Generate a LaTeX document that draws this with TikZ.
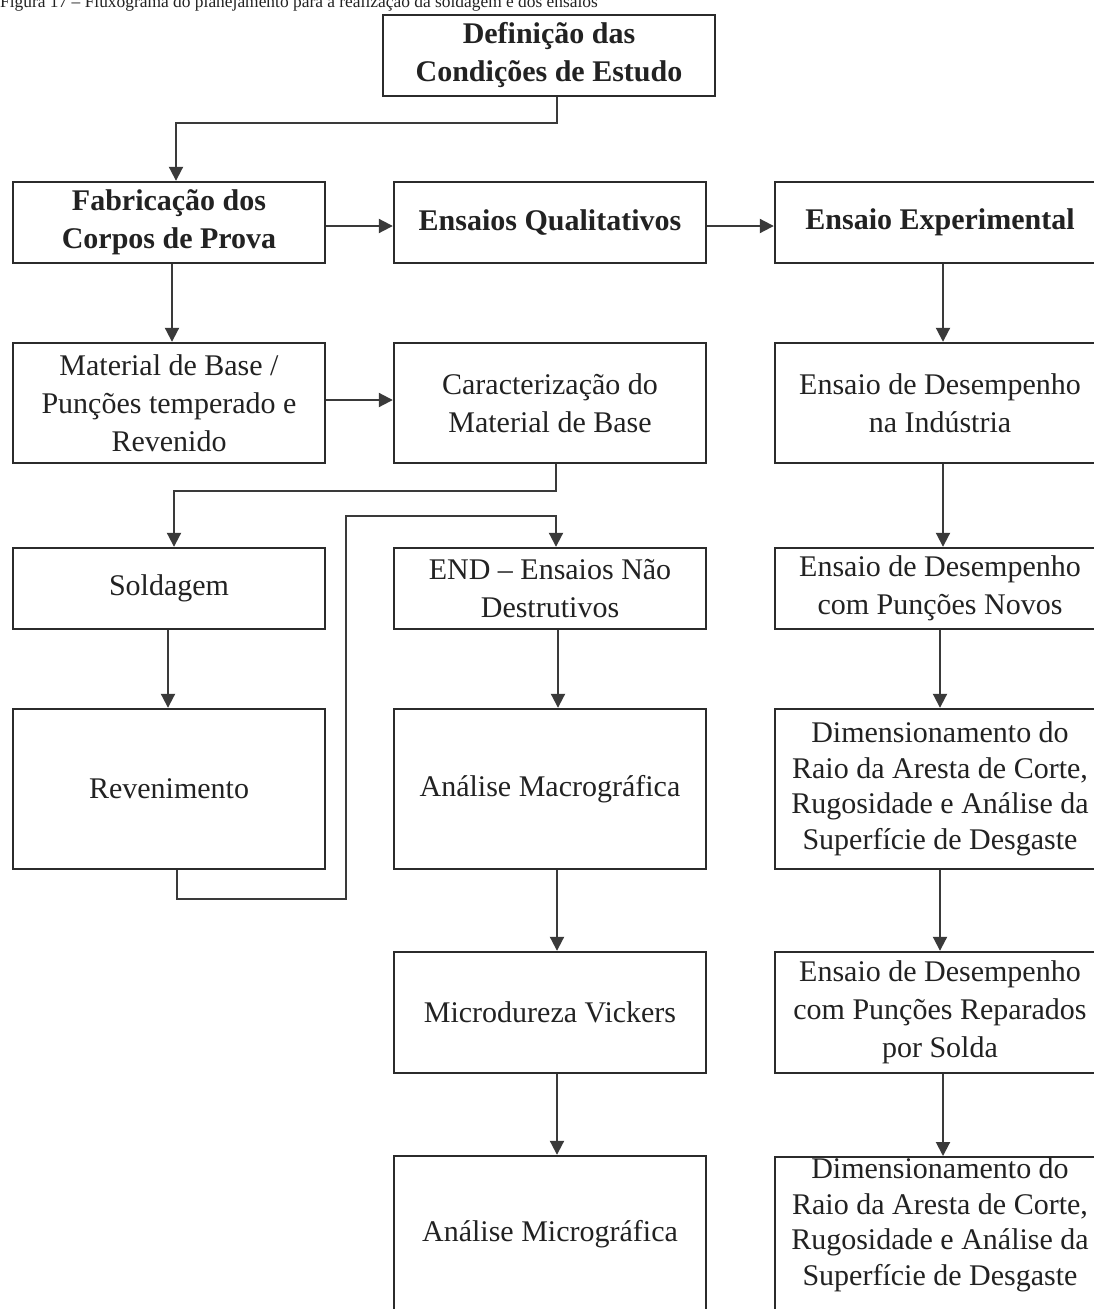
\documentclass[tikz,border=0pt]{standalone}
\usepackage{fontspec}
\setmainfont{Liberation Serif}
\usetikzlibrary{arrows.meta}
\definecolor{ink}{HTML}{222222}
\definecolor{edgec}{HTML}{2B2B2B}
\definecolor{wire}{HTML}{3A3A3A}
\tikzset{
  box/.style={draw=edgec, line width=2.4pt, rectangle, inner sep=0pt, align=center, text=ink,
    font=\fontsize{30}{38}\selectfont},
  boldbox/.style={box, font=\fontsize{30}{38}\selectfont\bfseries},
  tightbox/.style={box, font=\fontsize{30}{35.5}\selectfont},
  lbox/.style={minimum width=312pt},
  rbox/.style={minimum width=330pt},
  conn/.style={draw=wire, line width=2pt, -{Triangle[length=14pt,width=14pt]}},
  txt/.style={inner sep=0pt, align=center, text=ink, font=\fontsize{30}{35.5}\selectfont},
}
\begin{document}
\begin{tikzpicture}[x=1pt,y=-1pt]
\useasboundingbox (0,0) rectangle (1094,1309);
\clip (0,0) rectangle (1094,1309);
\fill[white] (0,0) rectangle (1094,1309);

% caption (cut at the top, as in the reference)
\node[anchor=base west, inner sep=0pt, text=ink, font=\fontsize{17.4}{20}\selectfont] (cap) at (0,7)
  {Figura 17 -- Fluxograma do planejamento para a realização da soldagem e dos ensaios};

% top
\node[boldbox, minimum width=332pt, minimum height=81pt] (T) at (549,55.5) {Definição das\\Condições de Estudo};

% row 2
\node[boldbox, lbox, minimum height=81pt] (A) at (169,222.5) {Fabricação dos\\Corpos de Prova};
\node[boldbox, lbox, minimum height=81pt] (B) at (550,222.5) {Ensaios Qualitativos};
\node[boldbox, rbox, minimum height=81pt] (C) at (940,222.5) {Ensaio Experimental};

% row 3
\node[box, lbox, minimum height=120pt] (D) at (169,403) {Material de Base /\\Punções temperado e\\Revenido};
\node[box, lbox, minimum height=120pt] (E) at (550,403) {Caracterização do\\Material de Base};
\node[box, rbox, minimum height=120pt] (F) at (940,403) {Ensaio de Desempenho\\na Indústria};

% row 4
\node[box, lbox, minimum height=81pt] (S) at (169,588.5) {Soldagem};
\node[box, lbox, minimum height=81pt] (N) at (550,588.5) {END -- Ensaios Não\\Destrutivos};
\node[box, rbox, minimum height=81pt] (G) at (940,588.5) {Ensaio de Desempenho\\com Punções Novos};

% row 5
\node[box, lbox, minimum height=160pt] (R) at (169,789) {Revenimento};
\node[box, lbox, minimum height=160pt] (M) at (550,789) {Análise Macrográfica};
\node[tightbox, rbox, minimum height=160pt] (H) at (940,789) {Dimensionamento do\\Raio da Aresta de Corte,\\Rugosidade e Análise da\\Superfície de Desgaste};

% row 6
\node[box, lbox, minimum height=121pt] (V) at (550,1012.5) {Microdureza Vickers};
\node[box, rbox, minimum height=121pt] (I) at (940,1012.5) {Ensaio de Desempenho\\com Punções Reparados\\por Solda};

% row 7 (cut at the bottom)
\node[box, lbox, minimum height=156pt] (P) at (550,1234) {Análise Micrográfica};
\node[draw=edgec, line width=2.4pt, rectangle, inner sep=0pt, rbox, minimum height=180pt, anchor=north] (J) at (940,1156) {};
\node[txt] (Jt) at (940,1225) {Dimensionamento do\\Raio da Aresta de Corte,\\Rugosidade e Análise da\\Superfície de Desgaste};

% connectors
\draw[conn] ([xshift=8pt]T.south) -- ++(0,26) -| ([xshift=7pt]A.north);
\draw[conn] ([yshift=-3.5pt]A.east) -- ([yshift=-3.5pt]B.west);
\draw[conn] ([yshift=-3.5pt]B.east) -- ([yshift=-3.5pt]C.west);
\draw[conn] ([xshift=3pt]A.south) -- ([xshift=3pt]D.north);
\draw[conn] ([yshift=3pt]D.east) -- ([yshift=3pt]E.west);
\draw[conn] ([xshift=3pt]C.south) -- ([xshift=3pt]F.north);
\draw[conn] ([xshift=6pt]E.south) -- ++(0,27) -| ([xshift=5pt]S.north);
\coordinate (j1) at (346,516);
\draw[conn] ([xshift=8pt]R.south) -- ++(0,29) -| (j1) -| ([xshift=6pt]N.north);
\draw[conn] ([xshift=3pt]F.south) -- ([xshift=3pt]G.north);
\draw[conn] ([xshift=-1pt]S.south) -- ([xshift=-1pt]R.north);
\draw[conn] ([xshift=8pt]N.south) -- ([xshift=8pt]M.north);
\draw[conn] ([xshift=7pt]M.south) -- ([xshift=7pt]V.north);
\draw[conn] ([xshift=7pt]V.south) -- ([xshift=7pt]P.north);
\draw[conn] (G.south) -- (H.north);
\draw[conn] (H.south) -- (I.north);
\draw[conn] ([xshift=3pt]I.south) -- ([xshift=3pt]J.north);
\end{tikzpicture}
\end{document}
